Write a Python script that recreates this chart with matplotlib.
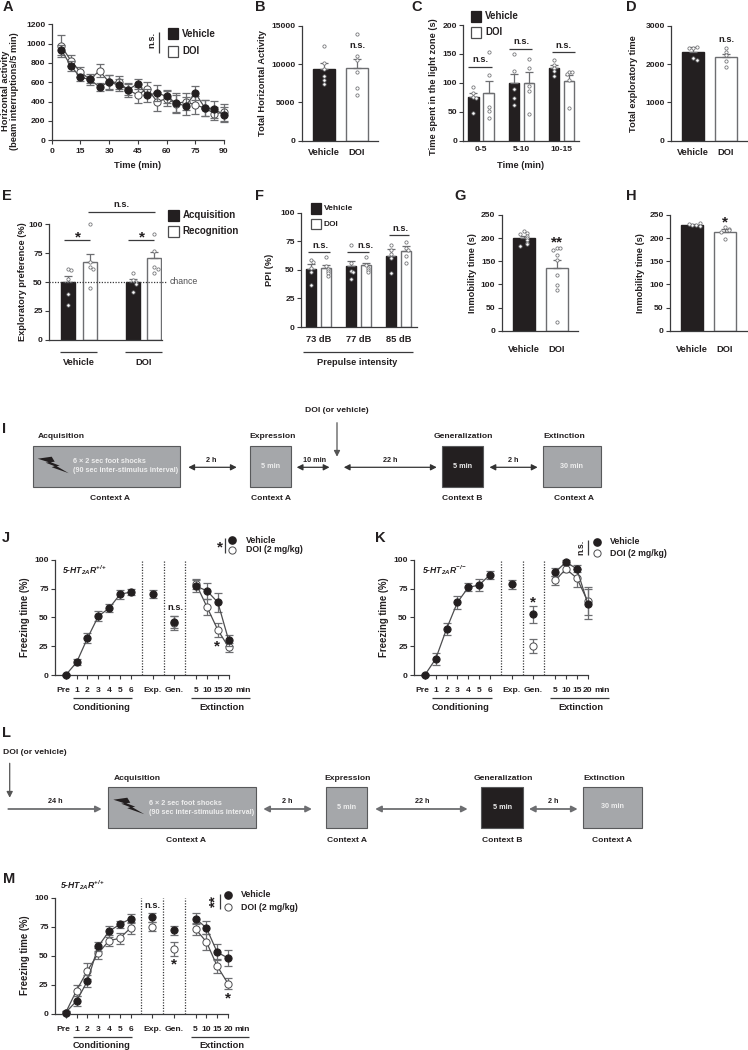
import matplotlib
matplotlib.use("Agg")
import matplotlib.pyplot as plt
from matplotlib.patches import Rectangle, Polygon
from matplotlib.transforms import ScaledTranslation

plt.rcParams['font.family'] = ['Liberation Sans', 'DejaVu Sans']
plt.rcParams['font.weight'] = 'bold'
plt.rcParams['mathtext.default'] = 'regular'

W, H = 748, 1050
BLACK = '#231f20'
AXC = '#3a3a3c'
GRAY = '#6d6e71'
BOXG = '#a5a7aa'

# ---------- Data ----------
a_time = [5, 10, 15, 20, 25, 30, 35, 40, 45, 50, 55, 60, 65, 70, 75, 80, 85, 90]
a_veh = [935, 770, 650, 630, 550, 605, 570, 525, 585, 465, 490, 455, 385, 355, 490, 335, 320, 265]
a_veh_err = [55, 50, 40, 40, 40, 70, 60, 60, 50, 70, 80, 70, 100, 90, 70, 80, 85, 75]
a_doi = [975, 825, 705, 630, 720, 600, 600, 520, 470, 535, 400, 430, 380, 400, 365, 335, 275, 290]
a_doi_err = [110, 60, 50, 60, 70, 80, 70, 70, 85, 70, 100, 80, 90, 90, 90, 80, 70, 90]

b_means = [9300, 9450]
b_errs = [800, 1250]
b_pts = [[12400, 10100, 9300, 8500, 7900, 7400], [13900, 11100, 10500, 9000, 6900, 5900]]

c_groups = ['0-5', '5-10', '10-15']
c_veh = [75, 99, 125]
c_veh_err = [7, 16, 5]
c_doi = [83, 100, 104]
c_doi_err = [21, 18, 10]
c_veh_pts = [[92, 83, 76, 73, 48], [150, 121, 89, 74, 62], [139, 130, 125, 120, 111]]
c_doi_pts = [[153, 114, 59, 51, 40], [142, 126, 95, 86, 46], [119, 118, 115, 105, 57]]

d_means = [2310, 2190]
d_errs = [130, 90]
d_pts = [[2430, 2450, 2430, 2170, 2110], [2415, 2330, 2240, 2085, 1935]]

e_groups = ['Vehicle', 'DOI']
e_acq = [50, 50]
e_acq_err = [5, 2.5]
e_rec = [67, 71]
e_rec_err = [7.5, 5]
e_acq_pts = [[61, 60, 53, 40, 30], [58, 52, 50, 48, 41]]
e_rec_pts = [[100, 67, 63, 61, 45], [92, 77, 63, 61, 58]]

f_groups = ['73 dB', '77 dB', '85 dB']
f_veh = [51, 53, 62.5]
f_veh_err = [4.5, 5, 6]
f_doi = [52, 54, 66.5]
f_doi_err = [2, 2, 4]
f_veh_pts = [[59, 57, 52, 48, 37], [72, 56, 49, 48, 42], [72, 67, 64, 60, 47]]
f_doi_pts = [[61, 53, 51, 49, 47, 45], [61, 54, 52, 50, 48], [74, 69, 67, 62, 56]]

g_means = [200, 135]
g_errs = [5, 18]
g_pts = [[216, 212, 210, 205, 200, 195, 190, 187, 184], [179, 178, 174, 163, 153, 121, 99, 89, 19]]

h_means = [228, 214]
h_errs = [2, 6]
h_pts = [[229, 229, 231, 233, 226], [225, 220, 218, 214, 198]]

fz_labels = ['Pre', '1', '2', '3', '4', '5', '6', 'Exp.', 'Gen.', '5', '10', '15', '20']
cond_pos = [1, 2, 3, 4, 5, 6, 7]
exp_pos = [9]
gen_pos = [11]
ext_pos = [13, 14, 15, 16]

j_cond = [0, 11, 32, 51, 58, 70, 72]
j_cond_err = [0.5, 2.5, 4, 4.5, 3.5, 4, 3]
j_exp = [70]
j_exp_err = [3.5]
j_gen_veh = [46]
j_gen_veh_err = [5]
j_gen_doi = [45]
j_gen_doi_err = [6]
j_ext_veh = [77, 73, 63, 30]
j_ext_veh_err = [5, 7, 8, 5]
j_ext_doi = [79, 59, 39, 24]
j_ext_doi_err = [4, 7, 6, 4]

k_cond = [0, 14, 40, 63, 76, 78, 87]
k_cond_err = [0.5, 5, 5.5, 5.5, 3.5, 5, 3.5]
k_exp = [78.5]
k_exp_err = [3.5]
k_gen_veh = [52.5]
k_gen_veh_err = [7]
k_gen_doi = [25.5]
k_gen_doi_err = [6]
k_ext_veh = [89, 98, 92, 62]
k_ext_veh_err = [3.5, 2, 3, 13]
k_ext_doi = [82, 92, 84, 64]
k_ext_doi_err = [4, 3, 8, 12]

m_cond_veh = [1, 11, 28, 58, 71, 77, 82]
m_cond_veh_err = [1, 4, 5, 4, 4.5, 3, 4]
m_cond_doi = [1, 20, 37, 52, 63, 65, 74]
m_cond_doi_err = [1, 5, 7, 5, 5, 5, 5]
m_exp_veh = [83]
m_exp_veh_err = [4]
m_exp_doi = [75]
m_exp_doi_err = [4]
m_gen_veh = [72]
m_gen_veh_err = [4]
m_gen_doi = [56]
m_gen_doi_err = [6]
m_ext_veh = [82, 74, 53, 48]
m_ext_veh_err = [4.5, 5.5, 7, 7]
m_ext_doi = [73, 62, 41, 26]
m_ext_doi_err = [5, 7, 6, 5]

# ---------- Helpers ----------
fig = plt.figure(figsize=(W / 100, H / 100), dpi=100, facecolor='white')
ov = fig.add_axes([0, 0, 1, 1], zorder=10)
ov.set_xlim(0, W)
ov.set_ylim(H, 0)
ov.axis('off')
ov.patch.set_alpha(0)


def T(x, y, s, size=6.7, ha='center', va='center', **kw):
    kw.setdefault('color', BLACK)
    return ov.text(x, y, s, fontsize=size, ha=ha, va=va, **kw)


def L(x0, y0, x1, y1, lw=0.9, color=AXC, **kw):
    ov.plot([x0, x1], [y0, y1], color=color, lw=lw, solid_capstyle='butt', **kw)


def letter(x, y, s):
    T(x, y, s, size=10.5)


def star(x, y, s='*', rot=0):
    T(x, y + 2.2, s, size=11, rotation=rot)


def square(x0, x1, y0, y1, filled):
    ov.add_patch(Rectangle((x0, y0), x1 - x0, y1 - y0, facecolor=BLACK if filled else 'white',
                           edgecolor=BLACK if filled else '#4d4d4f', lw=0.9))


def make_ax(x0, x1, ytop, ybot, xlim, ylim, yticks):
    ax = fig.add_axes([x0 / W, 1 - ybot / H, (x1 - x0) / W, (ybot - ytop) / H])
    ax.set_xlim(*xlim)
    ax.set_ylim(*ylim)
    ax.set_yticks(yticks)
    for s in ('top', 'right'):
        ax.spines[s].set_visible(False)
    for s in ('left', 'bottom'):
        ax.spines[s].set_color(AXC)
        ax.spines[s].set_linewidth(0.9)
    ax.tick_params(axis='y', length=3, width=0.8, color=AXC, labelsize=6.1, pad=1.5, labelcolor=BLACK)
    ax.tick_params(axis='x', length=3, width=0.8, color=AXC, labelsize=6.1, labelcolor=BLACK)
    ax.patch.set_alpha(0)
    return ax


def jitter(vals, thr, step):
    out = []
    seen = []
    pat = [0, 1, -1, 2, -2, 3, -3]
    for v in vals:
        n = sum(1 for s in seen if abs(s - v) < thr)
        out.append(pat[min(n, 6)] * step)
        seen.append(v)
    return out


def bar(ax, x, mean, err, filled, width, pts, thr, step):
    ax.bar([x], [mean], width=width, color=BLACK if filled else 'white',
           edgecolor=BLACK if filled else GRAY, lw=1.0, zorder=2)
    ax.errorbar([x], [mean], yerr=[[0], [err]], color=GRAY, lw=0.9, capsize=2.9, capthick=0.9,
                zorder=3, fmt='none')
    off = jitter(pts, thr, step)
    ax.scatter([x + o for o in off], pts, s=5.5, facecolor='white', edgecolor=GRAY, lw=0.55,
               zorder=4, clip_on=False)


def two_bars(x0, x1, ytop, ybot, xlim, ylim, yticks, means, errs, pts, labpad=5.5):
    ax = make_ax(x0, x1, ytop, ybot, xlim, ylim, yticks)
    rng = ylim[1]
    for i in range(2):
        bar(ax, i, means[i], errs[i], i == 0, 0.66, pts[i], rng * 0.025, 0.11)
    ax.set_xticks([0, 1])
    ax.set_xticklabels(['Vehicle', 'DOI'])
    ax.tick_params(axis='x', length=0, pad=labpad, labelsize=6.7)
    return ax


def group_bars(x0, x1, ytop, ybot, xlim, ylim, yticks, labels, a, ae, b, be, ap, bp, off, w, pad, xsize=6.1):
    ax = make_ax(x0, x1, ytop, ybot, xlim, ylim, yticks)
    for i in range(len(labels)):
        bar(ax, i - off, a[i], ae[i], True, w, ap[i], ylim[1] * 0.025, 0.055)
        bar(ax, i + off, b[i], be[i], False, w, bp[i], ylim[1] * 0.025, 0.055)
    ax.set_xticks(range(len(labels)))
    ax.set_xticklabels(labels)
    ax.tick_params(axis='x', length=0, pad=pad, labelsize=xsize)
    return ax


def series(ax, x, y, e, filled, z, line=True):
    ax.errorbar(x, y, yerr=e, color=GRAY, lw=0.9, capsize=2.9, capthick=0.9, fmt='none',
                zorder=z, clip_on=False)
    ax.plot(x, y, color='#4d4d4f' if line else 'none', lw=0.9, marker='o', ms=5.2,
            mfc=BLACK if filled else 'white', mec=BLACK if filled else '#4d4d4f', mew=0.7,
            zorder=z + 0.5, clip_on=False)


def freeze_ax(x0, x1, ytop, ybot):
    ax = make_ax(x0, x1, ytop, ybot, (0, 16), (0, 100), [0, 25, 50, 75, 100])
    ax.set_xticks(cond_pos + exp_pos + gen_pos + ext_pos)
    ax.set_xticklabels(fz_labels)
    ax.tick_params(axis='x', pad=5.5)
    pre = ax.get_xticklabels()[0]
    pre.set_transform(pre.get_transform() + ScaledTranslation(-2.3 / 100, 0, fig.dpi_scale_trans))
    for v in (8, 10, 12):
        ax.axvline(v, color=AXC, lw=0.9, ls=(0, (1, 1.2)), zorder=1)
    return ax


# ---------- Panel A ----------
axA = make_ax(51.7, 224, 24.3, 140.3, (0, 90), (0, 1200), list(range(0, 1201, 200)))
axA.set_xticks(range(0, 91, 15))
series(axA, a_time, a_doi, a_doi_err, False, 3)
series(axA, a_time, a_veh, a_veh_err, True, 4)
axA.tick_params(axis='x', pad=2.5)
letter(8, 7, 'A')
T(10, 91, 'Horizontal activity\n(beam interruptions/5 min)', rotation=90, linespacing=1.05)
T(137.7, 165.7, 'Time (min)')
T(151.7, 40, 'n.s.', rotation=90)
L(159, 31.7, 159, 53.3)
square(167.7, 178.3, 27.7, 39, True)
square(167.7, 178.3, 45.7, 57, False)
T(182.3, 34, 'Vehicle', ha='left', size=7)
T(182.3, 50.7, 'DOI', ha='left', size=7)

# ---------- Panel B ----------
two_bars(301.7, 378, 25.7, 140.7, (-0.676, 1.636), (0, 15000), [0, 5000, 10000, 15000],
         b_means, b_errs, b_pts)
letter(260.7, 7, 'B')
T(262.3, 83.3, 'Total Horizontal Activity', rotation=90)
T(357.3, 46, 'n.s.')

# ---------- Panel C ----------
group_bars(463.3, 579, 25, 140.7, (-0.438, 2.426), (0, 200), [0, 50, 100, 150, 200], c_groups,
           c_veh, c_veh_err, c_doi, c_doi_err, c_veh_pts, c_doi_pts, 0.186, 0.255, 3.5)
letter(416.7, 7, 'C')
T(434, 86.7, 'Time spent in the light zone (s)', rotation=90)
T(520.7, 165.7, 'Time (min)')
square(470.7, 481.3, 11, 21.7, True)
square(470.7, 481.3, 26.7, 37.7, False)
T(485, 16.3, 'Vehicle', ha='left', size=7)
T(485, 32.3, 'DOI', ha='left', size=7)
T(480.7, 60, 'n.s.')
L(468.3, 66.7, 491.7, 66.7)
T(521.7, 42, 'n.s.')
L(509, 49, 532.3, 49)
T(563.3, 45.7, 'n.s.')
L(552, 52, 575, 52)

# ---------- Panel D ----------
two_bars(671, 748, 26, 140.7, (-0.67, 1.68), (0, 3000), [0, 1000, 2000, 3000],
         d_means, d_errs, d_pts)
letter(631.7, 7, 'D')
T(634, 83.3, 'Total exploratory time', rotation=90)
T(726, 39.7, 'n.s.')

# ---------- Panel E ----------
axE = group_bars(49, 161.7, 224.3, 339.7, (-0.46, 1.281), (0, 100), [0, 25, 50, 75, 100], e_groups,
                 e_acq, e_acq_err, e_rec, e_rec_err, e_acq_pts, e_rec_pts, 0.168, 0.216, 0)
axE.set_xticklabels([])
letter(7.3, 195.7, 'E')
T(22.7, 281.7, 'Exploratory preference (%)', rotation=90)
T(121.7, 204.7, 'n.s.')
L(88.3, 212, 155, 212)
square(168.3, 179, 210, 220.7, True)
square(168.3, 179, 226, 236.7, False)
T(182.3, 215, 'Acquisition', ha='left', size=7)
T(182.3, 231, 'Recognition', ha='left', size=7)
star(78.3, 235)
L(64.3, 240.3, 90.3, 240.3)
star(142, 235)
L(128.3, 240.3, 154.3, 240.3)
L(49, 282, 166.7, 282, lw=0.9, ls=(0, (1, 1.2)))
T(170, 281.3, 'chance', ha='left', weight='normal', color='#4d4d4f', size=6.3)
L(60.3, 351.7, 97, 351.7)
L(125, 351.7, 161.7, 351.7)
T(78.7, 362.7, 'Vehicle')
T(143.3, 362.7, 'DOI')

# ---------- Panel F ----------
group_bars(301, 416.7, 212.7, 327, (-0.436, 2.45), (0, 100), [0, 25, 50, 75, 100], f_groups,
           f_veh, f_veh_err, f_doi, f_doi_err, f_veh_pts, f_doi_pts, 0.19, 0.25, 5.5, xsize=6.7)
letter(260, 195.7, 'F')
T(270, 270, 'PPI (%)', rotation=90)
square(310.7, 320.7, 203.3, 214, True)
square(310.7, 320.7, 218.7, 229.3, False)
T(323.7, 209, 'Vehicle', ha='left', size=6)
T(323.7, 224, 'DOI', ha='left', size=6)
T(320, 245.3, 'n.s.')
L(308.3, 251.7, 330, 251.7)
T(365, 245.3, 'n.s.')
L(346.7, 251.7, 369, 251.7)
T(400, 228.7, 'n.s.')
L(389, 235, 409.3, 235)
L(303.3, 351.7, 412.7, 351.7)
T(356.7, 362.7, 'Prepulse intensity')

# ---------- Panels G, H ----------
two_bars(501.7, 578.3, 215, 330.7, (-0.667, 1.655), (0, 250), [0, 50, 100, 150, 200, 250],
         g_means, g_errs, g_pts, labpad=10.5)
letter(460, 195.7, 'G')
T(472.7, 272.7, 'Inmobility time (s)', rotation=90)
star(556.7, 240, '**')

two_bars(670, 746.7, 215, 330.7, (-0.68, 1.66), (0, 250), [0, 50, 100, 150, 200, 250],
         h_means, h_errs, h_pts, labpad=10.5)
letter(631, 195.7, 'H')
T(640.7, 272.7, 'Inmobility time (s)', rotation=90)
star(725, 220)


# ---------- Protocol diagrams ----------
def box(x0, x1, y0, y1, color):
    ov.add_patch(Rectangle((x0, y0), x1 - x0, y1 - y0, facecolor=color, edgecolor='#58595b', lw=0.8))


def arrow(x0, y0, x1, y1, style='<|-|>', color='#333333', lw=0.9):
    ov.annotate('', xy=(x1, y1), xytext=(x0, y0),
                arrowprops=dict(arrowstyle=style + ',head_length=0.35,head_width=0.18', color=color,
                                lw=lw, shrinkA=0, shrinkB=0))


def bolt(x, y):
    shape = [(0, 2), (14, 0), (17, 5), (13, 5.5), (22, 9), (19, 9.5), (31, 16.5), (14, 10.5), (17, 9.5), (8, 6), (11, 5.5)]
    ov.add_patch(Polygon([(x + a, y + b) for a, b in shape], closed=True, facecolor=BLACK, edgecolor='none'))


DS = 6.1
SS = 5.2
LIGHT = '#eeeeee'

# Panel I
letter(4, 429, 'I')
T(337, 411, 'DOI (or vehicle)', size=DS)
arrow(337, 422.7, 337, 456.7, style='-|>', color='#555555')
T(38.1, 436.7, 'Acquisition', ha='left', size=DS)
box(33.3, 180, 446, 486.7, BOXG)
bolt(37.7, 456.7)
T(73.3, 461.7, '6 \u00d7 2 sec foot shocks', ha='left', size=SS, color=LIGHT)
T(73.3, 470.7, '(90 sec inter-stimulus interval)', ha='left', size=SS, color=LIGHT)
T(110.4, 498.3, 'Context A', size=DS)
arrow(188.3, 467.3, 236.7, 467.3)
T(211.4, 460, '2 h', size=SS)
box(250, 291, 446, 486.7, BOXG)
T(270.5, 466, '5 min', size=SS, color=LIGHT)
T(249, 436.7, 'Expression', ha='left', size=DS)
T(271, 498.3, 'Context A', size=DS)
arrow(296.7, 467.3, 329.5, 467.3)
T(314.8, 460, '10 min', size=SS)
arrow(343.8, 467.3, 436.7, 467.3)
T(390.5, 460, '22 h', size=SS)
box(442, 483.3, 446, 486.7, BLACK)
T(462.6, 466, '5 min', size=SS, color=LIGHT)
T(433.3, 436.7, 'Generalization', ha='left', size=DS)
T(462, 498.3, 'Context B', size=DS)
arrow(489.5, 467.3, 537.6, 467.3)
T(512.9, 460, '2 h', size=SS)
box(542.9, 601.4, 446, 486.7, BOXG)
T(572, 466, '30 min', size=SS, color=LIGHT)
T(542.9, 436.7, 'Extinction', ha='left', size=DS)
T(573.8, 498.3, 'Context A', size=DS)

# Panel L
letter(7, 733, 'L')
T(3, 752.3, 'DOI (or vehicle)', ha='left', size=DS)
arrow(9.7, 763.3, 9.7, 797.7, style='-|>', color='#555555')
arrow(8.3, 809, 101.7, 809, style='-|>', color='#6d6e71', lw=1.3)
T(55.7, 801.7, '24 h', size=SS)
box(108.3, 255.7, 787.3, 828.3, BOXG)
T(114, 778, 'Acquisition', ha='left', size=DS)
bolt(113.3, 797.7)
T(149, 803.3, '6 \u00d7 2 sec foot shocks', ha='left', size=SS, color=LIGHT)
T(149, 812.3, '(90 sec inter-stimulus interval)', ha='left', size=SS, color=LIGHT)
T(186, 840.3, 'Context A', size=DS)
arrow(263.3, 809, 311.9, 809, color='#6d6e71', lw=1.3)
T(287.1, 801.7, '2 h', size=SS)
box(325.7, 367.1, 787.3, 828.3, BOXG)
T(346.4, 807.3, '5 min', size=SS, color=LIGHT)
T(324.8, 778, 'Expression', ha='left', size=DS)
T(347.1, 840.3, 'Context A', size=DS)
arrow(375.2, 809, 467.6, 809, color='#6d6e71', lw=1.3)
T(421.9, 801.7, '22 h', size=SS)
box(481.4, 523.3, 787.3, 828.3, BLACK)
T(502.4, 807.3, '5 min', size=SS, color=LIGHT)
T(473.8, 778, 'Generalization', ha='left', size=DS)
T(501.9, 840.3, 'Context B', size=DS)
arrow(529, 809, 577.6, 809, color='#6d6e71', lw=1.3)
T(552.9, 801.7, '2 h', size=SS)
box(583.3, 641.9, 787.3, 828.3, BOXG)
T(612.6, 806.7, '30 min', size=SS, color=LIGHT)
T(582.9, 778, 'Extinction', ha='left', size=DS)
T(612.4, 840.3, 'Context A', size=DS)

# ---------- Panel J ----------
axJ = freeze_ax(54.9, 228.7, 559.7, 675)
series(axJ, gen_pos, j_gen_doi, j_gen_doi_err, False, 3, line=False)
series(axJ, ext_pos, j_ext_doi, j_ext_doi_err, False, 3)
series(axJ, cond_pos, j_cond, j_cond_err, True, 4)
series(axJ, exp_pos, j_exp, j_exp_err, True, 4, line=False)
series(axJ, gen_pos, j_gen_veh, j_gen_veh_err, True, 4, line=False)
series(axJ, ext_pos, j_ext_veh, j_ext_veh_err, True, 4)
letter(6, 538, 'J')
T(25, 617, 'Freezing time (%)', rotation=90, size=6.9)
T(62.3, 569.7, '5-HT$_{2A}$R$^{+/+}$', ha='left', style='italic', size=6.2)
star(220, 545.7)
L(225.3, 537.7, 225.3, 552.7)
ov.plot([232.3], [540.3], 'o', ms=5.2, mfc=BLACK, mec=BLACK)
ov.plot([232.3], [550], 'o', ms=5.2, mfc='white', mec='#4d4d4f', mew=0.7)
T(245.7, 540.3, 'Vehicle', ha='left', size=6.3)
T(245.7, 550, 'DOI (2 mg/kg)', ha='left', size=6.3)
T(175.7, 607.7, 'n.s.')
star(217.3, 644)
T(242.7, 690.6, 'min', size=6.1)
L(73.3, 698, 132.3, 698)
T(101.7, 707.3, 'Conditioning')
L(191.3, 698, 250, 698)
T(222.3, 707.3, 'Extinction')

# ---------- Panel K ----------
axK = freeze_ax(414, 587.7, 559.7, 675)
series(axK, gen_pos, k_gen_doi, k_gen_doi_err, False, 3, line=False)
series(axK, ext_pos, k_ext_doi, k_ext_doi_err, False, 3)
series(axK, cond_pos, k_cond, k_cond_err, True, 4)
series(axK, exp_pos, k_exp, k_exp_err, True, 4, line=False)
series(axK, gen_pos, k_gen_veh, k_gen_veh_err, True, 4, line=False)
series(axK, ext_pos, k_ext_veh, k_ext_veh_err, True, 4)
letter(380, 538, 'K')
T(384, 617, 'Freezing time (%)', rotation=90, size=6.9)
T(421.7, 569.7, '5-HT$_{2A}$R$^{-/-}$', ha='left', style='italic', size=6.2)
T(581.3, 547.3, 'n.s.', rotation=90, size=6.3)
L(587.7, 540, 587.7, 555)
ov.plot([596.7], [542], 'o', ms=5.2, mfc=BLACK, mec=BLACK)
ov.plot([596.7], [553], 'o', ms=5.2, mfc='white', mec='#4d4d4f', mew=0.7)
T(609.7, 542, 'Vehicle', ha='left', size=6.3)
T(609.7, 553, 'DOI (2 mg/kg)', ha='left', size=6.3)
star(533.3, 600)
T(601.7, 690.6, 'min', size=6.1)
L(432.3, 698, 491.7, 698)
T(460.7, 707.3, 'Conditioning')
L(550.3, 698, 609, 698)
T(581.3, 707.3, 'Extinction')

# ---------- Panel M ----------
axM = freeze_ax(54.9, 228, 897.7, 1013.7)
series(axM, cond_pos, m_cond_doi, m_cond_doi_err, False, 3)
series(axM, exp_pos, m_exp_doi, m_exp_doi_err, False, 3, line=False)
series(axM, gen_pos, m_gen_doi, m_gen_doi_err, False, 3, line=False)
series(axM, ext_pos, m_ext_doi, m_ext_doi_err, False, 3)
series(axM, cond_pos, m_cond_veh, m_cond_veh_err, True, 4)
series(axM, exp_pos, m_exp_veh, m_exp_veh_err, True, 4, line=False)
series(axM, gen_pos, m_gen_veh, m_gen_veh_err, True, 4, line=False)
series(axM, ext_pos, m_ext_veh, m_ext_veh_err, True, 4)
letter(8.7, 879, 'M')
T(25, 955, 'Freezing time (%)', rotation=90, size=6.9)
T(60, 885, '5-HT$_{2A}$R$^{+/+}$', ha='left', style='italic', size=6.2)
T(215.7, 901, '**', rotation=90, size=11)
L(220.3, 894, 220.3, 909)
ov.plot([228], [894.7], 'o', ms=5.2, mfc=BLACK, mec=BLACK)
ov.plot([228], [907.3], 'o', ms=5.2, mfc='white', mec='#4d4d4f', mew=0.7)
T(241, 894.7, 'Vehicle', ha='left', size=6.3)
T(241, 907.3, 'DOI (2 mg/kg)', ha='left', size=6.3)
T(152.3, 906, 'n.s.')
star(173.7, 962.3)
star(228.3, 996)
T(242, 1029.3, 'min', size=6.1)
L(73.3, 1036.7, 132.3, 1036.7)
T(101.7, 1046, 'Conditioning')
L(190.7, 1036.7, 249.3, 1036.7)
T(221.7, 1046, 'Extinction')

ov.set_xlim(0, W)
ov.set_ylim(H, 0)
fig.savefig('out.png', dpi=100)
